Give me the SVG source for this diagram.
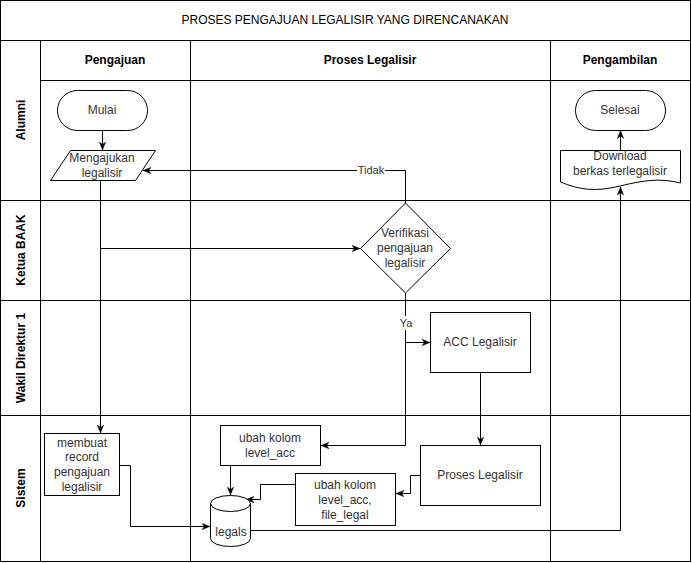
<svg xmlns="http://www.w3.org/2000/svg" width="692" height="563" viewBox="0 0 692 563">
  <style>
    .frame { fill: #ffffff; stroke: #000000; stroke-width: 1; }
    .line { fill: none; stroke: #000000; stroke-width: 1; }
    .shape { fill: #ffffff; stroke: #000000; stroke-width: 1; }
    .edge { fill: none; stroke: #000000; stroke-width: 1; marker-end: url(#arrow); }
    .title { font-family: "Liberation Sans", Arial, sans-serif; font-size: 12px; fill: #000000; text-anchor: middle; dominant-baseline: central; }
    .head { font-family: "Liberation Sans", Arial, sans-serif; font-size: 12px; font-weight: bold; fill: #000000; text-anchor: middle; dominant-baseline: central; }
    .txt { font-family: "Liberation Sans", Arial, sans-serif; font-size: 12px; fill: #333333; text-anchor: middle; dominant-baseline: central; }
    .lbl { font-family: "Liberation Sans", Arial, sans-serif; font-size: 11px; fill: #333333; text-anchor: middle; dominant-baseline: central; }
  </style>
  <defs>
    <marker id="arrow" viewBox="0 0 10 10" refX="10" refY="5" markerWidth="8" markerHeight="8" markerUnits="userSpaceOnUse" orient="auto">
      <path d="M0,1 L10,5 L0,9 L3,5 Z" fill="#000000" stroke="#000000" stroke-width="0.5"/>
    </marker>
  </defs>

  <rect x="0" y="0" width="692" height="563" fill="#ffffff"/>

  <!-- pool frame, header rows and lanes -->
  <g id="pool">
    <rect class="frame" x="0.5" y="0.5" width="690" height="561"/>
    <line class="line" x1="0.5" y1="40.5" x2="690.5" y2="40.5"/>
    <line class="line" x1="40.5" y1="80.5" x2="690.5" y2="80.5"/>
    <line class="line" x1="0.5" y1="200.5" x2="690.5" y2="200.5"/>
    <line class="line" x1="0.5" y1="300.5" x2="690.5" y2="300.5"/>
    <line class="line" x1="0.5" y1="415.5" x2="690.5" y2="415.5"/>
    <line class="line" x1="40.5" y1="40.5" x2="40.5" y2="561.5"/>
    <line class="line" x1="190.5" y1="40.5" x2="190.5" y2="561.5"/>
    <line class="line" x1="550.5" y1="40.5" x2="550.5" y2="561.5"/>
    <text class="title" x="345" y="20">PROSES PENGAJUAN LEGALISIR YANG DIRENCANAKAN</text>
    <text class="head" x="115" y="60">Pengajuan</text>
    <text class="head" x="370" y="60">Proses Legalisir</text>
    <text class="head" x="620" y="60">Pengambilan</text>
    <text class="head" transform="translate(21,120) rotate(-90)">Alumni</text>
    <text class="head" transform="translate(21,250) rotate(-90)">Ketua BAAK</text>
    <text class="head" transform="translate(21,358) rotate(-90)">Wakil Direktur 1</text>
    <text class="head" transform="translate(21,488) rotate(-90)">Sistem</text>
  </g>

  <!-- connectors -->
  <g id="connectors">
    <path class="edge" d="M102.5,130.5 V150"/>
    <path class="edge" d="M100.5,180.5 V433"/>
    <path class="edge" d="M100.5,248.5 H360"/>
    <path class="edge" d="M405.5,203 V170.5 H143"/>
    <path class="edge" d="M405.5,293 V445.5 H321"/>
    <path class="edge" d="M405.5,342.5 H430"/>
    <path class="edge" d="M480.5,372.5 V445"/>
    <path class="edge" d="M420.5,475.5 H410.5 V493.5 H396"/>
    <path class="edge" d="M295.5,484.5 H260.5 V499.5 H246"/>
    <path class="edge" d="M230.5,465.5 V495"/>
    <path class="edge" d="M119.5,465.5 H130.5 V526.5 H210"/>
    <path class="edge" d="M251,530.5 H620.5 V187"/>
    <path class="edge" d="M620.5,150.5 V130.5"/>
    <rect x="357" y="163" width="28" height="14" fill="#ffffff"/>
    <text class="lbl" x="371" y="170">Tidak</text>
    <rect x="398" y="316" width="16" height="14" fill="#ffffff"/>
    <text class="lbl" x="406" y="323">Ya</text>
  </g>

  <g id="mulai">
    <rect class="shape" x="57.5" y="90.5" width="90" height="40" rx="20" ry="20"/>
    <text class="txt" x="102" y="110">Mulai</text>
  </g>

  <g id="mengajukan">
    <polygon class="shape" points="70.5,150.5 155.5,150.5 135.5,180.5 50.5,180.5"/>
    <text class="txt" x="102" y="158">Mengajukan</text>
    <text class="txt" x="102" y="173">legalisir</text>
  </g>

  <g id="verifikasi">
    <polygon class="shape" points="405.5,203 450.5,248.5 405.5,293 360.5,248.5"/>
    <text class="txt" x="405" y="233">Verifikasi</text>
    <text class="txt" x="405" y="248">pengajuan</text>
    <text class="txt" x="405" y="263">legalisir</text>
  </g>

  <g id="acc">
    <rect class="shape" x="430.5" y="312.5" width="100" height="60"/>
    <text class="txt" x="480" y="342">ACC Legalisir</text>
  </g>

  <g id="proses">
    <rect class="shape" x="420.5" y="445.5" width="120" height="60"/>
    <text class="txt" x="480" y="475">Proses Legalisir</text>
  </g>

  <g id="ubah-acc">
    <rect class="shape" x="220.5" y="425.5" width="100" height="40"/>
    <text class="txt" x="270" y="438">ubah kolom</text>
    <text class="txt" x="270" y="453">level_acc</text>
  </g>

  <g id="ubah-file">
    <rect class="shape" x="295.5" y="473.5" width="100" height="52"/>
    <text class="txt" x="345" y="485">ubah kolom</text>
    <text class="txt" x="345" y="500">level_acc,</text>
    <text class="txt" x="345" y="515">file_legal</text>
  </g>

  <g id="record">
    <rect class="shape" x="44.5" y="433.5" width="75" height="62"/>
    <text class="txt" x="82" y="443">membuat</text>
    <text class="txt" x="82" y="457">record</text>
    <text class="txt" x="82" y="472">pengajuan</text>
    <text class="txt" x="82" y="487">legalisir</text>
  </g>

  <g id="legals">
    <path class="shape" d="M210.5,503.5 A20,8 0 0 1 250.5,503.5 V538.5 A20,8 0 0 1 210.5,538.5 Z"/>
    <path class="line" d="M210.5,503.5 A20,8 0 0 0 250.5,503.5"/>
    <text class="txt" x="231" y="532">legals</text>
  </g>

  <g id="download">
    <path class="shape" d="M560.5,150.5 H680.5 V183 C660,178 645,180 620,186 C595,192 580,190 560.5,182 Z"/>
    <text class="txt" x="620" y="156">Download</text>
    <text class="txt" x="620" y="171">berkas terlegalisir</text>
  </g>

  <g id="selesai">
    <rect class="shape" x="575.5" y="90.5" width="90" height="40" rx="20" ry="20"/>
    <text class="txt" x="620" y="110">Selesai</text>
  </g>
</svg>
